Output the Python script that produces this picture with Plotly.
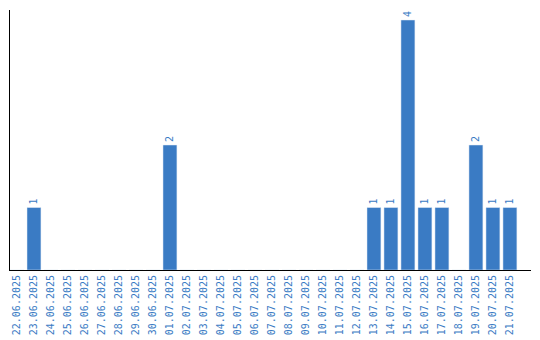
import plotly.graph_objects as go

dates = ["22.06.2025", "23.06.2025", "24.06.2025", "25.06.2025", "26.06.2025",
         "27.06.2025", "28.06.2025", "29.06.2025", "30.06.2025", "01.07.2025",
         "02.07.2025", "03.07.2025", "04.07.2025", "05.07.2025", "06.07.2025",
         "07.07.2025", "08.07.2025", "09.07.2025", "10.07.2025", "11.07.2025",
         "12.07.2025", "13.07.2025", "14.07.2025", "15.07.2025", "16.07.2025",
         "17.07.2025", "18.07.2025", "19.07.2025", "20.07.2025", "21.07.2025"]
counts = [0, 1, 0, 0, 0, 0, 0, 0, 0, 2,
          0, 0, 0, 0, 0, 0, 0, 0, 0, 0,
          0, 1, 1, 4, 1, 1, 0, 2, 1, 1]

color = "#3a7bc4"
fontfam = "DejaVu Sans Mono"
labels = [str(v) if v > 0 else "" for v in counts]

fig = go.Figure(go.Bar(
    x=list(range(len(dates))), y=counts, marker_color=color,
    text=labels, textposition="outside", textangle=-90,
    textfont=dict(family=fontfam, size=10, color=color),
    cliponaxis=False, hoverinfo="skip",
))

fig.update_layout(
    width=540, height=340,
    margin=dict(l=10, r=9, t=10, b=70, autoexpand=False),
    paper_bgcolor="white", plot_bgcolor="white",
    bargap=0.18, showlegend=False,
    font=dict(family=fontfam, size=10, color=color),
)
fig.update_xaxes(
    tickmode="array", tickvals=list(range(len(dates))), ticktext=dates,
    tickangle=-90, range=[-0.41, 30.24], showgrid=False, zeroline=False,
    showline=True, linecolor="black", linewidth=1, ticks="", automargin=False,
    tickfont=dict(family=fontfam, size=10, color=color),
)
fig.update_yaxes(
    range=[0, 4.16], showgrid=False, zeroline=False, showticklabels=False,
    showline=True, linecolor="black", linewidth=1, ticks="", automargin=False,
)

fig.write_html("out.html")
